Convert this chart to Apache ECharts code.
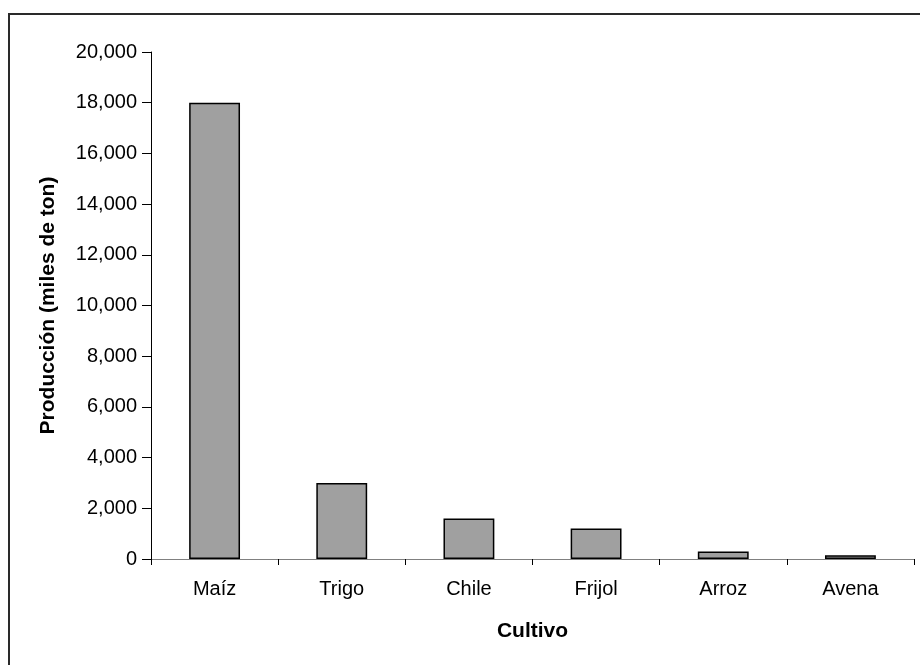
<!DOCTYPE html>
<html>
<head>
<meta charset="utf-8">
<script src="https://cdn.jsdelivr.net/npm/echarts@6/dist/echarts.min.js"></script>
<style>
  html, body { margin: 0; padding: 0; background: #fff; }
  #chart { width: 920px; height: 665px; }
</style>
</head>
<body>
<div id="chart"></div>
<script>
// Producción agrícola por cultivo (miles de toneladas)
const categories = ['Maíz', 'Trigo', 'Chile', 'Frijol', 'Arroz', 'Avena'];
const production = [18000, 3000, 1600, 1200, 300, 150];
const yTicks = { min: 0, max: 20000, interval: 2000 };

const chart = echarts.init(document.getElementById('chart'), null, { renderer: 'canvas' });

const fontFamily = '"Liberation Sans", Arial, sans-serif';

chart.setOption({
  backgroundColor: '#ffffff',
  animation: false,
  grid: { left: 151, top: 52, width: 763, height: 507, containLabel: false },
  xAxis: {
    type: 'category',
    data: categories,
    name: 'Cultivo',
    nameLocation: 'middle',
    nameGap: 62,
    nameTextStyle: { fontFamily, fontSize: 21, fontWeight: 'bold', color: '#000' },
    axisLine: { lineStyle: { color: '#808080', width: 1 } },
    axisTick: { show: true, length: 6, lineStyle: { color: '#000' }, alignWithLabel: false },
    axisLabel: { fontFamily, fontSize: 20, color: '#000', margin: 20 },
    splitLine: { show: false }
  },
  yAxis: {
    type: 'value',
    min: yTicks.min,
    max: yTicks.max,
    interval: yTicks.interval,
    name: 'Producción (miles de ton)',
    nameLocation: 'middle',
    nameGap: 92,
    nameRotate: 90,
    nameTextStyle: { fontFamily, fontSize: 21, fontWeight: 'bold', color: '#000' },
    axisLine: { show: true, lineStyle: { color: '#000', width: 1 } },
    axisTick: { show: true, length: 9, inside: false, lineStyle: { color: '#000' } },
    axisLabel: {
      fontFamily, fontSize: 20, color: '#000', margin: 14,
      formatter: v => v.toLocaleString('en-US')
    },
    splitLine: { show: false }
  },
  series: [{
    type: 'bar',
    data: production,
    barWidth: '40%',
    itemStyle: { color: '#a0a0a0', borderColor: '#000', borderWidth: 1.5 }
  }],
  graphic: [{
    type: 'polyline',
    shape: { points: [[9, 665], [9, 14], [920, 14]] },
    style: { stroke: '#2a2a2a', lineWidth: 2, fill: null },
    silent: true
  }]
});
</script>
</body>
</html>
